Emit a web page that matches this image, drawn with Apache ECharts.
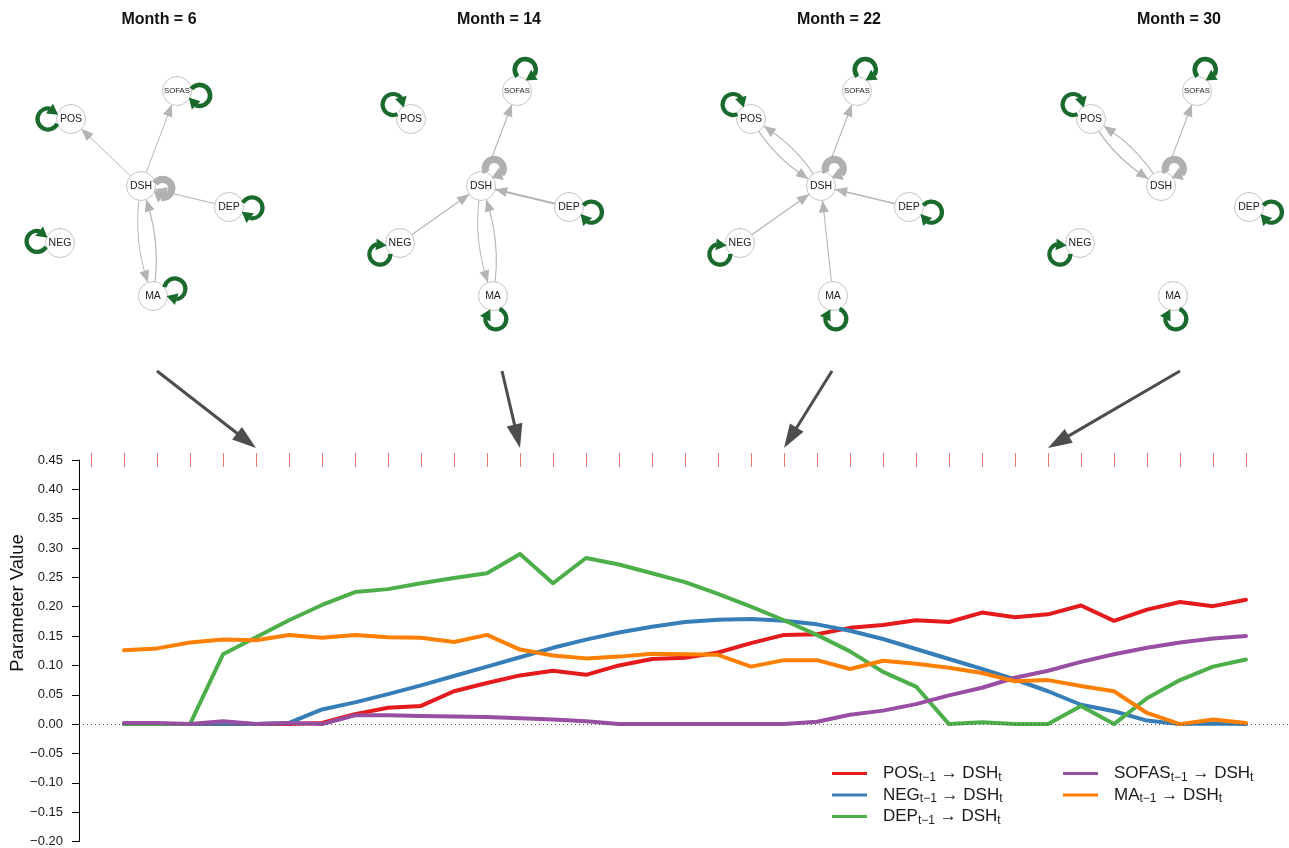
<!DOCTYPE html>
<html><head><meta charset="utf-8">
<script src="https://cdn.jsdelivr.net/npm/echarts@6/dist/echarts.min.js"></script>
<style>html,body{margin:0;padding:0;background:#fff}#c{width:1289px;height:848px}</style>
</head><body><div id="c"></div>
<script>
// ---------------- DATA ----------------
const months = [2,3,4,5,6,7,8,9,10,11,12,13,14,15,16,17,18,19,20,21,22,23,24,25,26,27,28,29,30,31,32,33,34,35,36];
const posToDsh   = [0,0,0,0,0,0,0.002,0.017,0.028,0.031,0.056,0.070,0.083,0.091,0.084,0.100,0.111,0.113,0.122,0.138,0.152,0.153,0.164,0.169,0.177,0.174,0.190,0.182,0.187,0.202,0.176,0.195,0.208,0.201,0.212];
const negToDsh   = [0,0,0,0.001,0,0.002,0.025,0.037,0.051,0.066,0.082,0.098,0.114,0.130,0.144,0.156,0.166,0.174,0.178,0.179,0.176,0.170,0.159,0.145,0.128,0.111,0.094,0.076,0.056,0.033,0.022,0.006,0,0.001,0];
const depToDsh   = [0,0,0,0.119,0.148,0.177,0.203,0.225,0.230,0.240,0.249,0.257,0.290,0.240,0.283,0.272,0.257,0.242,0.222,0.200,0.177,0.152,0.124,0.089,0.064,0,0.003,0,0,0.031,0,0.044,0.075,0.098,0.110];
const sofasToDsh = [0.002,0.002,0,0.005,0,0.002,0,0.015,0.015,0.014,0.013,0.012,0.010,0.008,0.005,0,0,0,0,0,0,0.004,0.016,0.023,0.034,0.049,0.062,0.079,0.091,0.106,0.119,0.130,0.139,0.146,0.150];
const maToDsh    = [0.126,0.129,0.139,0.144,0.143,0.152,0.147,0.152,0.148,0.147,0.140,0.152,0.127,0.117,0.112,0.115,0.120,0.119,0.118,0.098,0.109,0.109,0.094,0.108,0.103,0.096,0.087,0.073,0.075,0.065,0.056,0.019,0,0.008,0.002];
const seriesKeys = ['POS','NEG','DEP','SOFAS','MA'];
const tickMonths = [1,2,3,4,5,6,7,8,9,10,11,12,13,14,15,16,17,18,19,20,21,22,23,24,25,26,27,28,29,30,31,32,33,34,35,36];
const snapshotMonths = [6,14,22,30];
const nodeNames = ['POS','SOFAS','DSH','DEP','NEG','MA'];
// directed edges per snapshot: [from, to, weight]
const edgesM6  = [['DSH','POS',0.10],['DSH','SOFAS',0.10],['DEP','DSH',0.148],['DSH','MA',0.10],['MA','DSH',0.143]];
const edgesM14 = [['DSH','SOFAS',0.13],['DEP','DSH',0.290],['NEG','DSH',0.114],['DSH','MA',0.10],['MA','DSH',0.127]];
const edgesM22 = [['DSH','POS',0.12],['POS','DSH',0.152],['DSH','SOFAS',0.12],['DEP','DSH',0.177],['NEG','DSH',0.176],['MA','DSH',0.109]];
const edgesM30 = [['DSH','POS',0.12],['POS','DSH',0.187],['DSH','SOFAS',0.11]];
// autoregressive (self-loop) weights, order of nodeNames
const loopsM6  = [0.5,0.55,0.85,0.5,0.5,0.5];
const loopsM14 = [0.5,0.55,0.85,0.5,0.5,0.5];
const loopsM22 = [0.5,0.55,0.85,0.5,0.5,0.5];
const loopsM30 = [0.5,0.55,0.85,0.5,0.5,0.5];
const greyLoopNodes = ['DSH'];

// ---------------- LAYOUT / STYLE ----------------
const FONT = '"Liberation Sans", Arial, Helvetica, sans-serif';
const COLORS = {POS:'#e41a1c', NEG:'#377eb8', DEP:'#4daf4a', SOFAS:'#984ea3', MA:'#ff7f00'};
const SERIES_DATA = {POS:posToDsh, NEG:negToDsh, DEP:depToDsh, SOFAS:sofasToDsh, MA:maToDsh};
const panelCenters = [159, 499, 839, 1179];
const nodeOffsets = {POS:[-88,119], SOFAS:[18,91], DSH:[-18,186], DEP:[70,207], NEG:[-99,243], MA:[-6,296]};
const loopAnglesA = {POS:180, SOFAS:11, DSH:6, DEP:2, NEG:184, MA:-18};
const loopAnglesB = {POS:-141, SOFAS:-69, DSH:-53, DEP:13, NEG:151, MA:83};
const loopAngles = [loopAnglesA, loopAnglesB, loopAnglesB, loopAnglesB];
const bigArrowStarts = [[157,371],[502,371],[832,371],[1180,371]];
const NODE_R = 14.5;
const EDGE_COLOR = '#b4b4b4';
const LOOP_GREEN = '#1a6a2e';
const LOOP_GREY = '#b0b0b0';

const edgeSets = [edgesM6, edgesM14, edgesM22, edgesM30];
const loopSets = [loopsM6, loopsM14, loopsM22, loopsM30];

function nodePos(p, name) { const o = nodeOffsets[name]; return [panelCenters[p] + o[0], o[1]]; }

const edgeItems = [];
edgeSets.forEach((set, p) => set.forEach(e => {
  const curved = set.some(f => f[0] === e[1] && f[1] === e[0]);
  edgeItems.push({p, from: e[0], to: e[1], w: e[2], curved});
}));
const nodeItems = [];
snapshotMonths.forEach((m, p) => nodeNames.forEach(n => nodeItems.push({p, n})));
const loopItems = [];
loopSets.forEach((set, p) => set.forEach((w, i) => loopItems.push({p, n: nodeNames[i], w})));

function renderEdge(params, api) {
  const e = edgeItems[params.dataIndex];
  const a = nodePos(e.p, e.from), b = nodePos(e.p, e.to);
  const c = e.curved ? -0.15 : 0;
  const q = [(a[0]+b[0])/2 - (a[1]-b[1])*c, (a[1]+b[1])/2 - (b[0]-a[0])*c];
  const B = t => [(1-t)*(1-t)*a[0] + 2*(1-t)*t*q[0] + t*t*b[0], (1-t)*(1-t)*a[1] + 2*(1-t)*t*q[1] + t*t*b[1]];
  const dist = (u, v) => Math.hypot(u[0]-v[0], u[1]-v[1]);
  function findT(d) { let lo = 0, hi = 1; for (let i = 0; i < 40; i++) { const mid = (lo+hi)/2; if (dist(B(mid), b) > d) lo = mid; else hi = mid; } return lo; }
  const L = 12, W = 10;
  const tip = B(findT(NODE_R)), base = B(findT(NODE_R + L));
  let dx = tip[0]-base[0], dy = tip[1]-base[1]; const len = Math.hypot(dx, dy); dx/=len; dy/=len;
  const px = -dy, py = dx;
  const lw = 0.4 + e.w * 5.5;
  const lineEl = e.curved
    ? {type:'bezierCurve', shape:{x1:a[0], y1:a[1], x2:b[0], y2:b[1], cpx1:q[0], cpy1:q[1]}, style:{stroke:EDGE_COLOR, lineWidth:lw, fill:'none'}}
    : {type:'line', shape:{x1:a[0], y1:a[1], x2:b[0], y2:b[1]}, style:{stroke:EDGE_COLOR, lineWidth:lw}};
  return {type:'group', children:[lineEl,
    {type:'polygon', shape:{points:[tip, [base[0]+px*W/2, base[1]+py*W/2], [base[0]-px*W/2, base[1]-py*W/2]]}, style:{fill:EDGE_COLOR}}]};
}
function renderNode(params, api) {
  const it = nodeItems[params.dataIndex];
  const pos = nodePos(it.p, it.n);
  return {type:'group', children:[
    {type:'circle', shape:{cx:pos[0], cy:pos[1], r:NODE_R}, style:{fill:'#ffffff', stroke:'#c6c6c6', lineWidth:1}},
    {type:'text', x:pos[0], y:pos[1], style:{text:it.n, fill:'#222', font: (it.n === 'SOFAS' ? '7.8px ' : '10.5px ') + FONT, align:'center', verticalAlign:'middle'}}
  ]};
}
function renderLoop(params, api) {
  const it = loopItems[params.dataIndex];
  const N = nodePos(it.p, it.n);
  const grey = greyLoopNodes.indexOf(it.n) >= 0;
  const d = grey ? 22 : 23, r = grey ? 9 : 10.5, R = NODE_R;
  const th = loopAngles[it.p][it.n] * Math.PI / 180;
  const C = [N[0] + d*Math.cos(th), N[1] + d*Math.sin(th)];
  const beta = th + Math.PI;
  let cosPhi = (d*d + r*r - R*R) / (2*d*r); cosPhi = Math.max(-1, Math.min(1, cosPhi));
  const phi = Math.acos(cosPhi);
  const L = 10, W = grey ? 13 : 12;
  const alpha = L / r;
  const start = beta + phi, end = beta + 2*Math.PI - phi - alpha;
  const tipA = beta + 2*Math.PI - phi;
  const tip = [C[0] + r*Math.cos(tipA), C[1] + r*Math.sin(tipA)];
  const base = [C[0] + r*Math.cos(end), C[1] + r*Math.sin(end)];
  let dx = tip[0]-base[0], dy = tip[1]-base[1]; const len = Math.hypot(dx, dy); dx/=len; dy/=len;
  const px = -dy, py = dx;
  const col = grey ? LOOP_GREY : LOOP_GREEN;
  return {type:'group', children:[
    {type:'arc', shape:{cx:C[0], cy:C[1], r:r, startAngle:start, endAngle:end + 0.05, clockwise:true}, style:{stroke:col, lineWidth: it.w * 8.5, fill:'none'}},
    {type:'polygon', shape:{points:[[tip[0]+dx*1, tip[1]+dy*1], [base[0]+px*W/2, base[1]+py*W/2], [base[0]-px*W/2, base[1]-py*W/2]]}, style:{fill:col}}
  ]};
}
function renderBigArrow(params, api) {
  const i = params.dataIndex;
  const end = api.coord([api.value(0), api.value(1)]);
  const tip = [end[0], end[1] - 12];
  const s = bigArrowStarts[i];
  let dx = tip[0]-s[0], dy = tip[1]-s[1]; const len = Math.hypot(dx, dy); dx/=len; dy/=len;
  const L = 24, W = 16, px = -dy, py = dx;
  const base = [tip[0]-dx*L, tip[1]-dy*L];
  return {type:'group', children:[
    {type:'line', shape:{x1:s[0], y1:s[1], x2:base[0]+dx*2, y2:base[1]+dy*2}, style:{stroke:'#4d4d4d', lineWidth:3}},
    {type:'polygon', shape:{points:[tip, [base[0]+px*W/2, base[1]+py*W/2], [base[0]-px*W/2, base[1]-py*W/2]]}, style:{fill:'#4d4d4d'}}
  ]};
}

const legendFormatter = name => '{m|' + name + '}{s|t\u22121}{m| \u2192 DSH}{s|t}';
const legendText = {color:'#1a1a1a', fontFamily: FONT, fontSize:17,
  rich:{ m:{fontSize:17, lineHeight:20, fontFamily:FONT, color:'#1a1a1a'},
         s:{fontSize:12, lineHeight:8, verticalAlign:'bottom', fontFamily:FONT, color:'#1a1a1a'} }};
const legendIcon = 'path://M0,0 L35,0 L35,3 L0,3 Z M46,0';

const lineSeries = seriesKeys.map((k, idx) => ({
  type:'line', name:k, data: months.map((m, i) => [m, SERIES_DATA[k][i]]),
  symbol:'none', showSymbol:false, silent:true, z: 2,
  lineStyle:{color:COLORS[k], width:4, cap:'round', join:'round'},
  itemStyle:{color:COLORS[k]},
  markLine: idx === 0 ? {symbol:['none','none'], silent:true, label:{show:false},
    lineStyle:{type:[1,3], color:'#555', width:1}, data:[{yAxis:0}], animation:false} : undefined
}));

const graphics = snapshotMonths.map((m, p) => ({
  type:'text', x: panelCenters[p], y: 20,
  style:{text:'Month = ' + m, font:'bold 16px ' + FONT, fill:'#111', align:'center', verticalAlign:'middle'}
}));
graphics.push({type:'text', x:18, y:603, rotation: Math.PI/2,
  style:{text:'Parameter Value', font:'18.5px ' + FONT, fill:'#111', align:'center', verticalAlign:'middle'}});

const option = {
  animation:false,
  backgroundColor:'#ffffff',
  grid:{left:79, right:0, top:460, bottom:6, containLabel:false},
  xAxis:{type:'value', min: 1 - 12/33, max: 36 + 43/33, show:false},
  yAxis:{type:'value', min:-0.2, max:0.45, interval:0.05,
    axisLine:{show:true, lineStyle:{color:'#000', width:1}},
    axisTick:{show:true, length:7, lineStyle:{color:'#000'}},
    splitLine:{show:false},
    axisLabel:{margin:16, color:'#1a1a1a', fontFamily:FONT, fontSize:13,
      formatter: v => (v < -1e-9 ? '\u2212' : '') + Math.abs(v).toFixed(2)}},
  legend:[
    {data:['POS','NEG','DEP'], orient:'vertical', left:832, top:765, padding:0, itemGap:3,
     itemWidth:46, itemHeight:3, icon:legendIcon, selectedMode:false, formatter:legendFormatter, textStyle:legendText},
    {data:['SOFAS','MA'], orient:'vertical', left:1063, top:765, padding:0, itemGap:3,
     itemWidth:46, itemHeight:3, icon:legendIcon, selectedMode:false, formatter:legendFormatter, textStyle:legendText}
  ],
  graphic: graphics,
  series: lineSeries.concat([
    {type:'scatter', name:'ticks', data: tickMonths.map(m => [m, 0.45]), symbol:'rect', symbolSize:[1, 14], symbolOffset:[0.5, 0],
     itemStyle:{color:'#e0564c'}, silent:true, clip:false, z:3},
    {type:'custom', name:'bigArrows', coordinateSystem:'cartesian2d', data: snapshotMonths.map(m => [m, 0.45]),
     renderItem: renderBigArrow, clip:false, silent:true, z:6},
    {type:'custom', name:'edges', coordinateSystem:'none', data: edgeItems.map((e, i) => [i]), renderItem: renderEdge, silent:true, z:3},
    {type:'custom', name:'nodes', coordinateSystem:'none', data: nodeItems.map((e, i) => [i]), renderItem: renderNode, silent:true, z:4},
    {type:'custom', name:'loops', coordinateSystem:'none', data: loopItems.map((e, i) => [i]), renderItem: renderLoop, silent:true, z:5}
  ])
};
const chart = echarts.init(document.getElementById('c'), null, {renderer:'canvas'});
chart.setOption(option);
</script>
</body></html>
